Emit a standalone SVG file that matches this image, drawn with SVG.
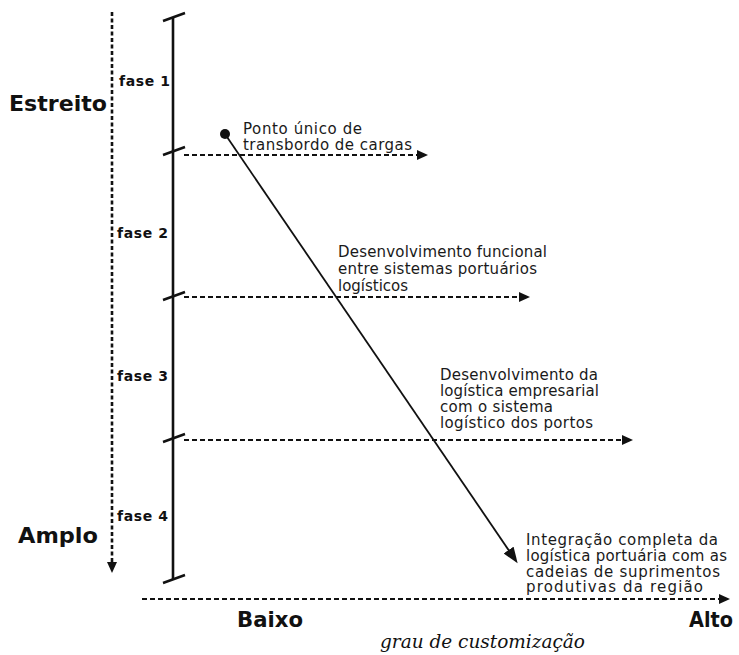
<svg xmlns="http://www.w3.org/2000/svg" width="739" height="655" viewBox="0 0 739 655">
  <style>
    .lbl { font-family: "DejaVu Sans", Verdana, sans-serif; font-size: 15px; fill: #1a1a1a; }
    .phase { font-family: "DejaVu Sans", Verdana, sans-serif; font-size: 14px; font-weight: bold; fill: #111; }
    .axis { font-family: "DejaVu Sans", Verdana, sans-serif; font-size: 22px; font-weight: bold; fill: #111; }
    .title { font-family: "DejaVu Serif", Cambria, serif; font-size: 19px; font-style: italic; fill: #111; }
    .dash { stroke: #111; stroke-width: 2; stroke-dasharray: 5 3; fill: none; }
    .vdash { stroke: #111; stroke-width: 2.6; stroke-dasharray: 4 2.5; fill: none; }
    .solid { stroke: #111; stroke-width: 2.6; fill: none; }
    .tick { stroke: #111; stroke-width: 2.4; fill: none; }
  </style>
  <defs>
    <marker id="head" markerUnits="userSpaceOnUse" markerWidth="12" markerHeight="11" refX="4" refY="5.5" orient="auto">
      <path d="M0,0.5 L11,5.5 L0,10.5 z" fill="#111"/>
    </marker>
    <marker id="headBig" markerUnits="userSpaceOnUse" markerWidth="17" markerHeight="13" refX="6" refY="6.5" orient="auto">
      <path d="M0,0.5 L16,6.5 L0,12.5 z" fill="#111"/>
    </marker>
  </defs>

  <rect width="739" height="655" fill="#ffffff"/>

  <!-- phase scale: solid spine with slanted ticks -->
  <g id="phase-scale">
    <line class="solid" x1="173" y1="17" x2="173" y2="579"/>
    <line class="tick" x1="163" y1="21" x2="185" y2="13"/>
    <line class="tick" x1="163" y1="155" x2="185" y2="147"/>
    <line class="tick" x1="163" y1="300" x2="185" y2="292"/>
    <line class="tick" x1="163" y1="442" x2="185" y2="434"/>
    <line class="tick" x1="163" y1="583" x2="185" y2="575"/>
  </g>

  <!-- connectors -->
  <g id="connectors">
    <line class="vdash" x1="112" y1="12" x2="112" y2="566" marker-end="url(#head)"/>
    <line class="dash" x1="142" y1="599" x2="723" y2="599" marker-end="url(#head)"/>
    <line class="dash" x1="184" y1="155" x2="421" y2="155" marker-end="url(#head)"/>
    <line class="dash" x1="184" y1="297" x2="523" y2="297" marker-end="url(#head)"/>
    <line class="dash" x1="184" y1="440" x2="626" y2="440" marker-end="url(#head)"/>
    <line x1="225" y1="134" x2="512" y2="555" stroke="#111" stroke-width="1.8" marker-end="url(#headBig)"/>
    <circle cx="225" cy="134" r="5" fill="#111"/>
  </g>

  <!-- axis labels -->
  <g id="axis-labels">
    <text class="axis" x="9" y="111" textLength="98" lengthAdjust="spacingAndGlyphs">Estreito</text>
    <text class="axis" x="18" y="543" textLength="80" lengthAdjust="spacingAndGlyphs">Amplo</text>
    <text class="axis" x="237" y="627" textLength="66" lengthAdjust="spacingAndGlyphs">Baixo</text>
    <text class="axis" x="689" y="627" textLength="44" lengthAdjust="spacingAndGlyphs">Alto</text>
    <text class="title" x="380" y="648" textLength="205" lengthAdjust="spacingAndGlyphs">grau de customização</text>
  </g>

  <!-- phase labels -->
  <g id="phase-1"><text class="phase" x="119" y="86" textLength="51" lengthAdjust="spacing">fase 1</text></g>
  <g id="phase-2"><text class="phase" x="117" y="238" textLength="51" lengthAdjust="spacing">fase 2</text></g>
  <g id="phase-3"><text class="phase" x="117" y="381" textLength="51" lengthAdjust="spacing">fase 3</text></g>
  <g id="phase-4"><text class="phase" x="117" y="521" textLength="51" lengthAdjust="spacing">fase 4</text></g>

  <!-- stage descriptions -->
  <g id="stage-1">
    <text class="lbl" x="243" y="134" textLength="119" lengthAdjust="spacing">Ponto único de</text>
    <text class="lbl" x="243" y="150" textLength="169" lengthAdjust="spacing">transbordo de cargas</text>
  </g>
  <g id="stage-2">
    <text class="lbl" x="338" y="257" textLength="209" lengthAdjust="spacing">Desenvolvimento funcional</text>
    <text class="lbl" x="338" y="274" textLength="199" lengthAdjust="spacing">entre sistemas portuários</text>
    <text class="lbl" x="338" y="291" textLength="70" lengthAdjust="spacing">logísticos</text>
  </g>
  <g id="stage-3">
    <text class="lbl" x="440" y="380" textLength="158" lengthAdjust="spacing">Desenvolvimento da</text>
    <text class="lbl" x="440" y="396" textLength="159" lengthAdjust="spacing">logística empresarial</text>
    <text class="lbl" x="440" y="412" textLength="113" lengthAdjust="spacing">com o sistema</text>
    <text class="lbl" x="440" y="428" textLength="153" lengthAdjust="spacing">logístico dos portos</text>
  </g>
  <g id="stage-4">
    <text class="lbl" x="526" y="545" textLength="192" lengthAdjust="spacing">Integração completa da</text>
    <text class="lbl" x="526" y="561" textLength="201" lengthAdjust="spacing">logística portuária com as</text>
    <text class="lbl" x="526" y="577" textLength="194" lengthAdjust="spacing">cadeias de suprimentos</text>
    <text class="lbl" x="526" y="592" textLength="177" lengthAdjust="spacing">produtivas da região</text>
  </g>
</svg>
